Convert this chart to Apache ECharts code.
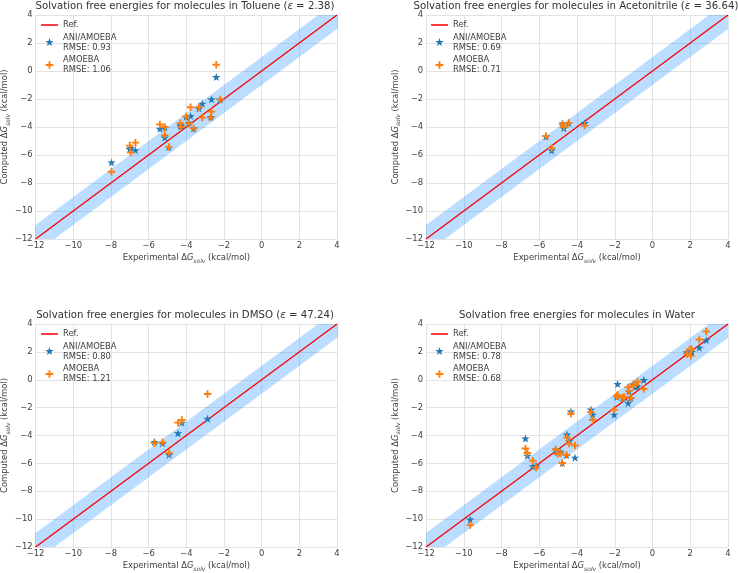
<!DOCTYPE html>
<html><head><meta charset="utf-8">
<script src="https://cdn.jsdelivr.net/npm/echarts@6/dist/echarts.min.js"></script>
<style>html,body{margin:0;padding:0;background:#fff}#c{width:738px;height:573px}</style>
</head><body><div id="c"></div><script>
// ---- data ----
const axisMin = -12, axisMax = 4, tickStep = 2;
const refLine = [[-12, -12], [4, 4]];
const bandExtent = [-13, 5];
const bandHalfWidth = 1;

const solventNames = ['Toluene', 'Acetonitrile', 'DMSO', 'Water'];
const solventEps = ['2.38', '36.64', '47.24', null];
const rmseAni = ['0.93', '0.69', '0.80', '0.78'];
const rmseAmoeba = ['1.06', '0.71', '1.21', '0.68'];

const tolueneExp    = [-7.97, -7.00, -6.95, -6.70, -5.40, -5.14, -5.14, -4.93, -4.31, -4.28, -4.01, -3.77, -3.85, -3.61, -3.33, -3.15, -2.70, -2.66, -2.41, -2.20];
const tolueneAni    = [-6.53, -5.57, -5.50, -5.66, -4.13, -4.01, -4.75, -5.42, -3.87, -3.95, -3.28, -3.21, -3.70, -4.11, -2.68, -2.33, -3.28, -2.02, -0.43, -2.04];
const tolueneAmoeba = [-7.20, -5.33, -5.83, -5.12, -3.82, -4.01, -4.58, -5.42, -3.73, -3.99, -3.25, -2.59, -3.75, -4.11, -2.59, -3.33, -3.33, -2.90, 0.45, -2.04];

const acnExp    = [-5.64, -5.34, -4.76, -4.70, -4.44, -3.59];
const acnAni    = [-4.68, -5.68, -3.75, -4.09, -3.71, -3.71];
const acnAmoeba = [-4.65, -5.51, -3.80, -3.99, -3.71, -3.90];

const dmsoExp    = [-5.69, -5.26, -4.91, -4.44, -4.24, -2.87];
const dmsoAni    = [-4.46, -4.57, -5.38, -3.84, -3.08, -2.80];
const dmsoAmoeba = [-4.55, -4.48, -5.24, -3.08, -2.89, -1.02];

const waterExp    = [-9.66, -6.73, -6.63, -6.34, -6.17, -5.13, -5.02, -4.88, -4.78, -4.55, -4.53, -4.42, -4.32, -4.11, -3.26, -3.17, -2.03, -1.90, -1.85, -1.58, -1.50, -1.29, -1.25, -1.15, -1.02, -0.90, -0.79, -0.46, 1.83, 1.97, 2.03, 2.08, 2.48, 2.85];
const waterAni    = [-10.03, -4.22, -5.45, -6.21, -6.16, -5.00, -5.21, -5.17, -5.97, -5.40, -3.93, -4.41, -2.28, -5.59, -2.13, -2.51, -2.50, -1.23, -0.31, -1.30, -1.25, -1.68, -0.83, -1.30, -0.33, -0.52, -0.47, -0.02, 1.97, 2.06, 1.97, 2.00, 2.30, 2.84];
const waterAmoeba = [-10.43, -4.93, -5.26, -5.81, -6.30, -5.00, -5.33, -5.29, -5.97, -5.40, -4.15, -4.57, -2.44, -4.72, -2.32, -2.89, -2.15, -1.19, -1.09, -1.30, -1.23, -0.55, -0.80, -1.33, -0.43, -0.33, -0.14, -0.66, 1.85, 2.18, 1.71, 2.18, 2.89, 3.46];

const expSets = [tolueneExp, acnExp, dmsoExp, waterExp];
const aniSets = [tolueneAni, acnAni, dmsoAni, waterAni];
const amoebaSets = [tolueneAmoeba, acnAmoeba, dmsoAmoeba, waterAmoeba];

// ---- layout / style ----
const FONT = 'DejaVu Sans';
const grids = [
  {left: 34, top: 15, width: 303, height: 224},
  {left: 426, top: 15, width: 302, height: 224},
  {left: 34, top: 324, width: 303, height: 225},
  {left: 426, top: 324, width: 302, height: 225}
];
const titlePos = [[185, 0], [576, 0], [185, 309], [577, 309]];
const legendPos = [[41, 20], [431, 20], [41, 329], [431, 329]];

const STAR = 'M0,-10L2.245,-3.09L9.511,-3.09L3.633,1.18L5.878,8.09L0,3.82L-5.878,8.09L-3.633,1.18L-9.511,-3.09L-2.245,-3.09Z';
const PLUS = 'M-1.25,-5L1.25,-5L1.25,-1.25L5,-1.25L5,1.25L1.25,1.25L1.25,5L-1.25,5L-1.25,1.25L-5,1.25L-5,-1.25L-1.25,-1.25Z';
const starIcon = 'path://' + STAR + 'M-19,-11.2L-19,-11.2ZM19,11.2L19,11.2Z';
const plusIcon = 'path://' + PLUS + 'M-11,-6.5L-11,-6.5ZM11,6.5L11,6.5Z';
const lineIcon = 'path://M-8.5,-0.7L8.5,-0.7L8.5,0.7L-8.5,0.7ZM-8.5,-5L-8.5,-5ZM8.5,5L8.5,5Z';

const textColor = '#3c3c3c';
const minus = v => String(v).replace('-', '\u2212');

const option = {
  animation: false,
  backgroundColor: '#fff',
  textStyle: {fontFamily: FONT},
  title: [], legend: [], grid: [], xAxis: [], yAxis: [], series: []
};

for (let i = 0; i < 4; i++) {
  const g = grids[i];
  option.grid.push(Object.assign({containLabel: false}, g));
  const titleText = solventEps[i]
    ? '{n|Solvation free energies for molecules in ' + solventNames[i] + ' (}{i|ε}{n| = ' + solventEps[i] + ')}'
    : '{n|Solvation free energies for molecules in ' + solventNames[i] + '}';
  option.title.push({
    text: titleText, left: titlePos[i][0], top: titlePos[i][1], textAlign: 'center', padding: 0,
    textStyle: {fontWeight: 'normal', rich: {
      n: {fontFamily: FONT, fontSize: 10.2, color: '#333', fontWeight: 'normal', lineHeight: 12},
      i: {fontFamily: FONT, fontSize: 10.2, color: '#333', fontWeight: 'normal', fontStyle: 'italic', lineHeight: 12}
    }}
  });
  const aniName = 'ANI/AMOEBA\nRMSE: ' + rmseAni[i];
  const amoName = 'AMOEBA\nRMSE: ' + rmseAmoeba[i];
  option.legend.push({
    orient: 'vertical', left: legendPos[i][0], top: legendPos[i][1], padding: 0,
    itemWidth: 17, itemHeight: 10, itemGap: 2.5, selectedMode: false,
    textStyle: {fontFamily: FONT, fontSize: 8.4, color: textColor, lineHeight: 10},
    data: [
      {name: 'Ref.', icon: lineIcon, itemStyle: {color: '#ff0000'}},
      {name: aniName, icon: starIcon, itemStyle: {color: '#1f77b4'}},
      {name: amoName, icon: plusIcon, itemStyle: {color: '#ff7f0e'}}
    ]
  });
  const axisCommon = {
    type: 'value', min: axisMin, max: axisMax, interval: tickStep,
    gridIndex: i,
    axisLine: {show: false}, axisTick: {show: false},
    splitLine: {show: true, lineStyle: {color: '#e2e2e2', width: 1}},
    axisLabel: {fontFamily: FONT, fontSize: 8.4, color: textColor, formatter: minus},
    nameLocation: 'middle',
    nameTextStyle: {rich: {
      n: {fontFamily: FONT, fontSize: 8.4, color: textColor, lineHeight: 12},
      g: {fontFamily: FONT, fontSize: 8.4, color: textColor, fontStyle: 'italic', lineHeight: 12},
      s: {fontFamily: FONT, fontSize: 6, color: textColor, fontStyle: 'italic', lineHeight: 6, verticalAlign: 'bottom'}
    }}
  };
  option.xAxis.push(Object.assign({}, axisCommon, {
    name: '{n|Experimental Δ}{g|G}{s|solv}{n| (kcal/mol)}', nameGap: 13,
    axisLabel: Object.assign({}, axisCommon.axisLabel, {margin: 3})
  }));
  option.yAxis.push(Object.assign({}, axisCommon, {
    name: '{n|Computed Δ}{g|G}{s|solv}{n| (kcal/mol)}', nameGap: 22,
    axisLabel: Object.assign({}, axisCommon.axisLabel, {margin: 3})
  }));

  option.series.push({
    type: 'custom', xAxisIndex: i, yAxisIndex: i, clip: true, z: 1, silent: true,
    data: [bandExtent],
    renderItem: function (params, api) {
      const x0 = api.value(0), x1 = api.value(1), w = bandHalfWidth;
      const pts = [[x0, x0 - w], [x1, x1 - w], [x1, x1 + w], [x0, x0 + w]].map(p => api.coord(p));
      return {type: 'polygon', shape: {points: pts}, style: {fill: 'rgba(30,144,255,0.3)'}};
    }
  });
  option.series.push({
    name: 'Ref.', type: 'line', xAxisIndex: i, yAxisIndex: i, z: 3,
    data: refLine, showSymbol: false, symbol: 'none',
    lineStyle: {color: '#ff0000', width: 1.4}, itemStyle: {color: '#ff0000'}
  });
  const ex = expSets[i];
  option.series.push({
    name: aniName, type: 'scatter', xAxisIndex: i, yAxisIndex: i, z: 4,
    symbol: 'path://' + STAR, symbolSize: 8.5, symbolKeepAspect: true,
    itemStyle: {color: '#1f77b4', opacity: 1},
    data: ex.map((x, k) => [x, aniSets[i][k]])
  });
  option.series.push({
    name: amoName, type: 'scatter', xAxisIndex: i, yAxisIndex: i, z: 5,
    symbol: 'path://' + PLUS, symbolSize: 7.5, symbolKeepAspect: true,
    itemStyle: {color: '#ff7f0e', opacity: 1},
    data: ex.map((x, k) => [x, amoebaSets[i][k]])
  });
}

const chart = echarts.init(document.getElementById('c'), null, {renderer: 'canvas'});
chart.setOption(option);
</script></body></html>
